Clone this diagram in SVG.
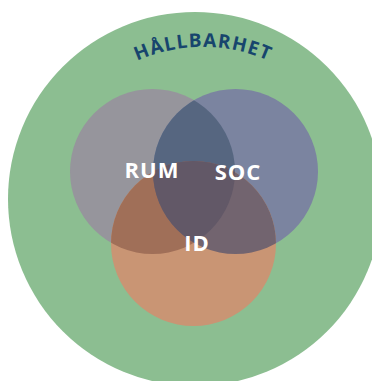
<svg xmlns="http://www.w3.org/2000/svg" width="372" height="381" viewBox="0 0 372 381">
<style>
.lbl{font-family:"Open Sans","Liberation Sans",sans-serif;font-weight:700;fill:#ffffff;font-size:22px;letter-spacing:1px;text-anchor:middle}
.arc{font-family:"Open Sans","Liberation Sans",sans-serif;font-weight:700;fill:#17456d;font-size:19px;letter-spacing:1.2px}
</style>
<defs>
<clipPath id="cR"><circle cx="152.5" cy="171.5" r="82.5"/></clipPath>
<clipPath id="cS"><circle cx="235.5" cy="171.5" r="82.5"/></clipPath>
<path id="tp" d="M 83 101 A 160 160 0 0 1 323 101"/>
</defs>
<rect width="372" height="381" fill="#ffffff"/>
<g id="hallbarhet">
<circle cx="195" cy="199" r="187" fill="#8cbe91"/>
<text class="arc"><textPath href="#tp" startOffset="50%" text-anchor="middle">HÅLLBARHET</textPath></text>
</g>
<g id="rum"><circle cx="152.5" cy="171.5" r="82.5" fill="#96959c"/></g>
<g id="soc"><circle cx="235.5" cy="171.5" r="82.5" fill="#7b84a0"/></g>
<g id="id"><circle cx="193.5" cy="243.5" r="82.5" fill="#c99574"/></g>
<g id="overlaps">
<g clip-path="url(#cR)"><circle cx="235.5" cy="171.5" r="82.5" fill="#566680"/></g>
<g clip-path="url(#cR)"><circle cx="193.5" cy="243.5" r="82.5" fill="#a06f58"/></g>
<g clip-path="url(#cS)"><circle cx="193.5" cy="243.5" r="82.5" fill="#72646f"/></g>
<g clip-path="url(#cR)"><g clip-path="url(#cS)"><circle cx="193.5" cy="243.5" r="82.5" fill="#625867"/></g></g>
</g>
<g id="labels">
<text class="lbl" x="152" y="178">RUM</text>
<text class="lbl" x="238" y="180">SOC</text>
<text class="lbl" x="197" y="251">ID</text>
</g>
</svg>
